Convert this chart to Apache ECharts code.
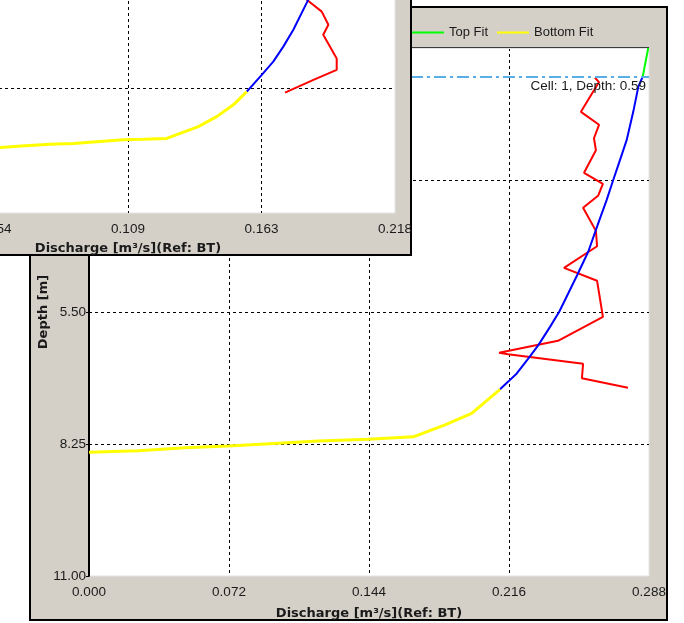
<!DOCTYPE html>
<html>
<head>
<meta charset="utf-8">
<title>Discharge profile</title>
<script src="https://cdn.jsdelivr.net/npm/echarts@6/dist/echarts.min.js"></script>
<style>
  html, body { margin: 0; padding: 0; background: #ffffff; }
  #chart { width: 684px; height: 623px; }
</style>
</head>
<body>
<div id="chart"></div>
<script>
// Tick labels
const mainQTicks = ['0.000', '0.072', '0.144', '0.216', '0.288'];
const depthTicks = ['0.00', '2.75', '5.50', '8.25', '11.00'];
const insetQTicks = ['0.000', '0.054', '0.109', '0.163', '0.218'];

// Selected cell
const cellNumber = 1;
const cellDepth = 0.59;

// Profile in the main window: discharge [m3/s] versus depth [m]
const measuredQ = [0.2602, 0.2623, 0.2530, 0.2623, 0.2597, 0.2607, 0.2546, 0.2643, 0.2618, 0.2541, 0.2607,
                   0.2613, 0.2443, 0.2613, 0.2643, 0.2412, 0.2109, 0.2155, 0.2541, 0.2535, 0.2772];
const measuredDepth = [0.62, 0.71, 1.33, 1.60, 1.88, 2.13, 2.60, 2.83, 3.08, 3.33, 3.81,
                       4.13, 4.58, 4.85, 5.60, 6.10, 6.35, 6.38, 6.58, 6.88, 7.08];

const fitQ = [0.2848, 0.2825, 0.2799, 0.2765, 0.2722, 0.2696, 0.2662, 0.2628, 0.2607, 0.2568,
              0.2511, 0.2465, 0.2419, 0.2371, 0.2311, 0.2259, 0.2200, 0.2156, 0.2114];
const fitDepth = [0.59, 0.81, 1.33, 1.92, 2.44, 2.75, 3.17, 3.55, 3.79, 4.24,
                  4.73, 5.11, 5.49, 5.81, 6.19, 6.47, 6.78, 6.95, 7.11];

const topFitQ = [0.2876, 0.2848];
const topFitDepth = [0.00, 0.59];

const bottomFitQ = [0.2114, 0.1968, 0.1831, 0.1668, 0.1436, 0.1179, 0.0905, 0.0716, 0.0494, 0.0254, 0.0000];
const bottomFitDepth = [7.11, 7.61, 7.85, 8.10, 8.15, 8.19, 8.25, 8.29, 8.33, 8.39, 8.42];

// Profile in the second window
const insetMeasuredQ = [0.1813, 0.1820, 0.1881, 0.1908, 0.1887, 0.1942, 0.1942, 0.1847, 0.1731];
const insetMeasuredDepth = [6.18, 6.31, 6.57, 6.86, 7.08, 7.60, 7.85, 8.07, 8.35];

const insetFitQ = [0.1841, 0.1822, 0.1765, 0.1724, 0.1683, 0.1636, 0.1575];
const insetFitDepth = [6.09, 6.35, 6.97, 7.34, 7.67, 7.96, 8.33];

const insetBottomQ = [0.1575, 0.1520, 0.1452, 0.1377, 0.1248, 0.1153, 0.1071, 0.0962, 0.0867, 0.0772, 0.0670, 0.0567, 0.0000];
const insetBottomDepth = [8.33, 8.62, 8.88, 9.10, 9.36, 9.38, 9.39, 9.43, 9.47, 9.49, 9.52, 9.56, 9.75];

function pairs(q, d) { return q.map((v, i) => [v, d[i]]); }

const FONT = 'Liberation Sans';
const BOLD_FONT = 'DejaVu Sans';
const TXT = '#1a1a1a';
const PANEL = '#d4d0c8';

// Layout of the two windows
const main = { left: 89, top: 48, width: 560, height: 528 };
const inset = { left: -139, top: -287, width: 534, height: 500 };

const QMAX = 0.288, QSTEP = 0.072;
const IQMAX = 0.218, IQSTEP = 0.0545;
const DMAX = 11, DSTEP = 2.75;

const gridDash = { show: true, lineStyle: { color: '#000', type: [3, 3], width: 1 }, showMinLine: false, showMaxLine: false };
const tickText = { fontSize: 13.5, color: TXT, fontFamily: FONT };
const nameText = { fontWeight: 'bold', fontSize: 13, color: TXT, fontFamily: BOLD_FONT };

function lineSeries(name, data, color, width, xi, z) {
  return {
    name: name, type: 'line', data: data,
    xAxisIndex: xi, yAxisIndex: xi,
    symbol: 'none', smooth: false, z: z,
    color: color,
    lineStyle: { color: color, width: width },
    animation: false
  };
}

function qAxis(gridIndex, max, step, labels, gap, z) {
  return {
    type: 'value', gridIndex: gridIndex, min: 0, max: max, interval: step,
    name: 'Discharge [m³/s](Ref: BT)', nameLocation: 'middle', nameGap: gap,
    nameMoveOverlap: false,
    nameTextStyle: nameText,
    axisLine: { show: true, lineStyle: { color: '#e4e4e4', width: 1 } },
    axisTick: { show: false },
    axisLabel: Object.assign({ margin: 9, formatter: v => labels[Math.round(v / step)] }, tickText),
    splitLine: gridDash, z: z
  };
}

function depthAxis(gridIndex, z) {
  return {
    type: 'value', gridIndex: gridIndex, min: 0, max: DMAX, interval: DSTEP, inverse: true,
    name: 'Depth [m]', nameLocation: 'middle', nameGap: 39,
    nameMoveOverlap: false,
    nameTextStyle: nameText,
    axisLine: { show: true, lineStyle: { color: '#000', width: 2 } },
    axisTick: { show: true, length: 3, lineStyle: { color: '#000' } },
    axisLabel: Object.assign({ margin: 3, formatter: v => depthTicks[Math.round(v / DSTEP)] }, tickText),
    splitLine: gridDash, z: z
  };
}

const chart = echarts.init(document.getElementById('chart'), null, { renderer: 'canvas' });

const measuredMain = lineSeries('Measured', pairs(measuredQ, measuredDepth), '#ff0000', 2, 0, 2);
measuredMain.markLine = {
  silent: true,
  symbol: 'none',
  animation: false,
  lineStyle: { color: '#5aaee6', type: [12, 4, 3, 4], width: 2 },
  label: {
    show: true,
    position: 'insideEndBottom',
    distance: [3, 3],
    formatter: 'Cell: ' + cellNumber + ', Depth: ' + cellDepth.toFixed(2),
    color: TXT, fontFamily: FONT, fontSize: 13.5
  },
  data: [{ yAxis: cellDepth }]
};

chart.setOption({
  backgroundColor: '#ffffff',
  animation: false,
  textStyle: { fontFamily: FONT },
  graphic: [
    { type: 'rect', z: -10, shape: { x: 30, y: 7, width: 637, height: 613 },
      style: { fill: PANEL, stroke: '#000', lineWidth: 2 } },
    { type: 'line', z: 1, shape: { x1: main.left, y1: main.top, x2: main.left + main.width, y2: main.top },
      style: { stroke: '#3c3c3c', lineWidth: 2 } },
    { type: 'rect', z: 50, shape: { x: -10, y: -10, width: 421, height: 265 },
      style: { fill: PANEL, stroke: '#000', lineWidth: 2 } }
  ],
  legend: {
    data: ['Top Fit', 'Bottom Fit'],
    left: 412, top: 26, padding: 0,
    icon: 'rect', itemWidth: 32, itemHeight: 2, itemGap: 9,
    selectedMode: false, z: 3,
    textStyle: { fontSize: 13, color: TXT, fontFamily: FONT }
  },
  grid: [
    Object.assign({ show: true, backgroundColor: '#ffffff', borderColor: '#e4e4e4', borderWidth: 1, z: 0,
      containLabel: false, outerBoundsMode: 'none' }, main),
    Object.assign({ show: true, backgroundColor: '#ffffff', borderColor: '#e4e4e4', borderWidth: 1, z: 51,
      containLabel: false, outerBoundsMode: 'none' }, inset)
  ],
  xAxis: [
    qAxis(0, QMAX, QSTEP, mainQTicks, 31.5, 1),
    qAxis(1, IQMAX, IQSTEP, insetQTicks, 29, 52)
  ],
  yAxis: [
    depthAxis(0, 1),
    depthAxis(1, 52)
  ],
  series: [
    measuredMain,
    lineSeries('Power Fit', pairs(fitQ, fitDepth), '#0000ff', 2, 0, 2),
    lineSeries('Top Fit', pairs(topFitQ, topFitDepth), '#00ff00', 2, 0, 2),
    lineSeries('Bottom Fit', pairs(bottomFitQ, bottomFitDepth), '#ffff00', 3, 0, 2),
    lineSeries('Measured', pairs(insetMeasuredQ, insetMeasuredDepth), '#ff0000', 2, 1, 53),
    lineSeries('Power Fit', pairs(insetFitQ, insetFitDepth), '#0000ff', 2, 1, 53),
    lineSeries('Bottom Fit', pairs(insetBottomQ, insetBottomDepth), '#ffff00', 3, 1, 53)
  ]
});
</script>
</body>
</html>
